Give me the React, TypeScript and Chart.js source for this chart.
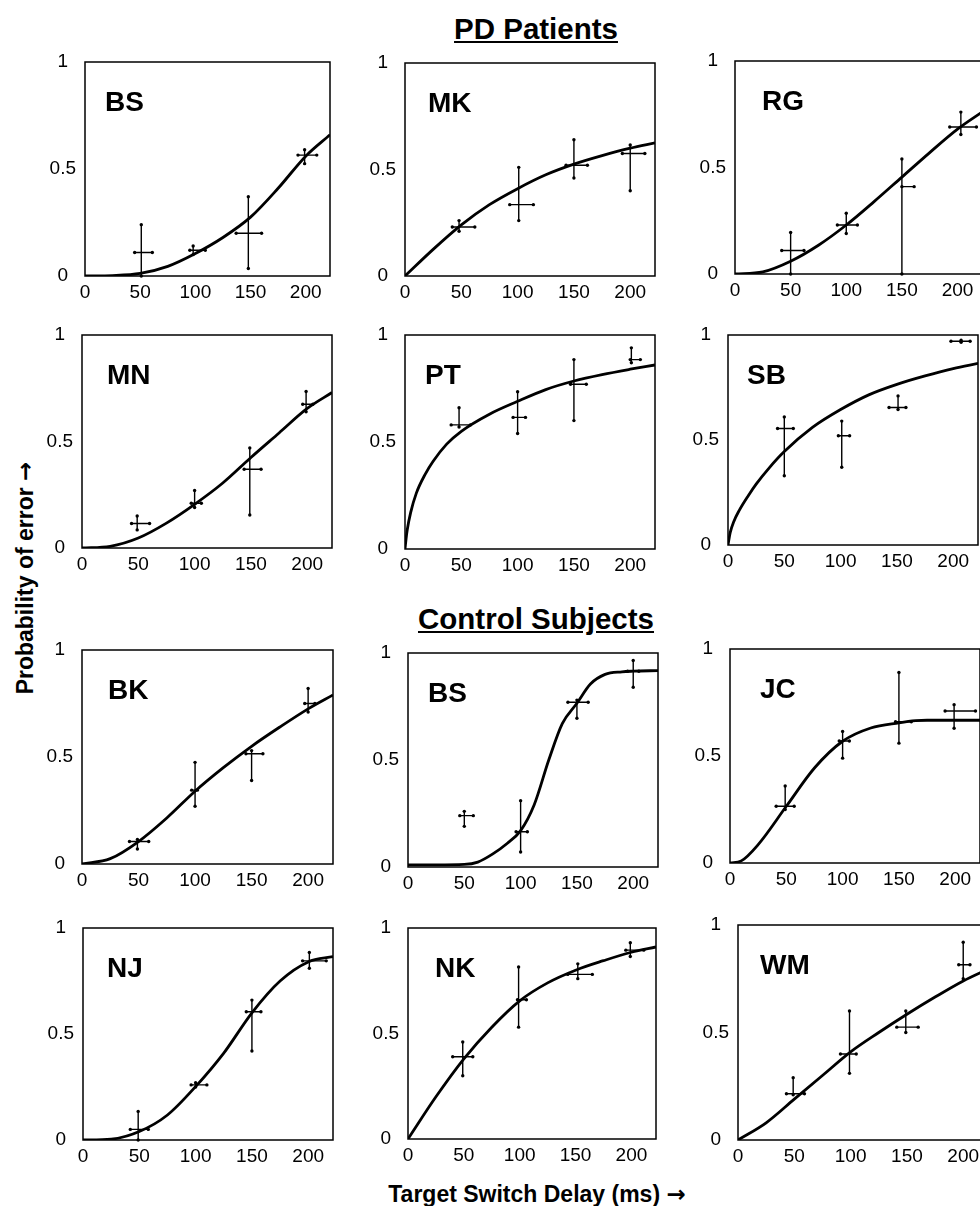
import React, { useEffect, useRef } from "react";
import { Chart, registerables } from "chart.js";

Chart.register(...registerables);

const FONT = '"Liberation Sans", Arial, Helvetica, sans-serif';
const ARROW_FONT = '"DejaVu Sans", sans-serif';

// ---------- shared axis data ----------
const X_TICKS = [0, 50, 100, 150, 200];
const Y_TICKS = [0, 0.5, 1];
const X_MAX = 222;
const CURVE_X = [0, 25, 50, 75, 100, 125, 150, 175, 200, 222];

// ---------- section titles ----------
const TITLE_PD = "PD Patients";
const TITLE_CTRL = "Control Subjects";
const Y_LABEL = "Probability of error";
const X_LABEL = "Target Switch Delay (ms)";
const ARROW = "\u2192";

// points: [x, y, xLow, xHigh, yLow, yHigh]
// ---------- PD patients ----------
const BS_PD_CURVE_Y = [0, 0.002, 0.012, 0.045, 0.105, 0.18, 0.275, 0.41, 0.56, 0.66];
const BS_PD_POINTS = [[51, 0.11, 45, 61, 0, 0.24], [98, 0.12, 95, 109, 0.1, 0.14], [148, 0.2, 137, 160, 0.035, 0.37], [199, 0.565, 193, 210, 0.525, 0.59]];

const MK_CURVE_Y = [0, 0.125, 0.24, 0.335, 0.41, 0.475, 0.525, 0.565, 0.6, 0.625];
const MK_POINTS = [[48, 0.23, 42, 62, 0.21, 0.26], [101, 0.335, 93, 114, 0.26, 0.51], [150, 0.52, 143, 162, 0.46, 0.64], [200, 0.575, 193, 213, 0.4, 0.615]];

const RG_CURVE_Y = [0, 0.01, 0.06, 0.135, 0.23, 0.34, 0.455, 0.57, 0.68, 0.76];
const RG_POINTS = [[50, 0.11, 42, 62, 0, 0.195], [100, 0.23, 92, 110, 0.19, 0.285], [150, 0.41, 150, 161, 0, 0.54], [203, 0.69, 193, 217, 0.655, 0.76]];

const MN_CURVE_Y = [0, 0.008, 0.047, 0.117, 0.205, 0.305, 0.425, 0.54, 0.655, 0.73];
const MN_POINTS = [[49, 0.115, 44, 60, 0.085, 0.15], [100, 0.21, 97, 106, 0.19, 0.27], [149, 0.37, 144, 159, 0.155, 0.47], [199, 0.675, 196, 205, 0.64, 0.735]];

const PT_CURVE_X = [0, 1, 2, 5, 10, 18, 25, 37, 50, 75, 100, 125, 150, 175, 200, 222];
const PT_CURVE_Y = [0, 0.05, 0.09, 0.17, 0.26, 0.35, 0.41, 0.49, 0.55, 0.63, 0.69, 0.745, 0.785, 0.815, 0.84, 0.86];
const PT_POINTS = [[48, 0.58, 41, 58, 0.57, 0.66], [100, 0.615, 96, 107, 0.54, 0.735], [150, 0.77, 147, 161, 0.6, 0.885], [201, 0.885, 200, 209, 0.87, 0.94]];

const SB_CURVE_X = [0, 2, 5, 10, 18, 25, 37, 50, 75, 100, 125, 150, 175, 200, 222];
const SB_CURVE_Y = [0, 0.06, 0.11, 0.165, 0.235, 0.29, 0.37, 0.445, 0.56, 0.645, 0.715, 0.765, 0.805, 0.84, 0.865];
const SB_POINTS = [[50, 0.555, 44, 58, 0.33, 0.61], [101, 0.52, 98, 108, 0.37, 0.59], [151, 0.655, 143, 158, 0.645, 0.71], [207, 0.97, 198, 215, 0.965, 0.975]];

// ---------- control subjects ----------
const BK_CURVE_Y = [0, 0.025, 0.105, 0.215, 0.34, 0.45, 0.55, 0.64, 0.725, 0.79];
const BK_POINTS = [[49, 0.105, 42, 59, 0.07, 0.115], [100, 0.345, 97, 102, 0.27, 0.475], [150, 0.515, 145, 160, 0.39, 0.53], [200, 0.75, 197, 206, 0.71, 0.82]];

const BS_C_CURVE_X = [0, 25, 50, 62, 75, 88, 100, 112, 125, 137, 150, 162, 175, 190, 200, 222];
const BS_C_CURVE_Y = [0.01, 0.01, 0.012, 0.023, 0.06, 0.11, 0.17, 0.29, 0.5, 0.67, 0.765, 0.855, 0.9, 0.912, 0.915, 0.918];
const BS_C_POINTS = [[50, 0.24, 46, 58, 0.19, 0.26], [100, 0.165, 96, 106, 0.07, 0.31], [150, 0.77, 142, 160, 0.695, 0.78], [200, 0.915, 195, 205, 0.84, 0.965]];

const JC_CURVE_X = [0, 10, 25, 50, 75, 100, 125, 150, 165, 175, 200, 222];
const JC_CURVE_Y = [0, 0.01, 0.086, 0.265, 0.444, 0.569, 0.631, 0.655, 0.665, 0.667, 0.667, 0.667];
const JC_POINTS = [[49, 0.265, 41, 57, 0.25, 0.36], [100, 0.57, 97, 106, 0.49, 0.615], [150, 0.66, 147, 161, 0.56, 0.89], [199, 0.71, 191, 218, 0.63, 0.74]];

const NJ_CURVE_Y = [0, 0.004, 0.04, 0.118, 0.252, 0.41, 0.6, 0.75, 0.84, 0.865];
const NJ_POINTS = [[49, 0.05, 42, 58, 0, 0.135], [100, 0.26, 96, 110, 0.25, 0.27], [150, 0.605, 145, 158, 0.42, 0.66], [201, 0.845, 195, 216, 0.81, 0.885]];

const NK_CURVE_Y = [0, 0.2, 0.38, 0.53, 0.655, 0.74, 0.8, 0.845, 0.885, 0.91];
const NK_POINTS = [[49, 0.39, 40, 58, 0.3, 0.46], [99, 0.66, 98, 106, 0.53, 0.815], [152, 0.78, 143, 165, 0.76, 0.83], [199, 0.895, 195, 211, 0.865, 0.93]];

const WM_CURVE_Y = [0, 0.08, 0.19, 0.3, 0.41, 0.5, 0.585, 0.665, 0.74, 0.795];
const WM_POINTS = [[49, 0.215, 43, 59, 0.21, 0.29], [99, 0.4, 91, 105, 0.31, 0.6], [149, 0.525, 141, 160, 0.5, 0.6], [200, 0.815, 196, 206, 0.75, 0.92]];

// ---------- panel table (data) ----------
const PANELS = [
  { name: "BS", cx: CURVE_X, cy: BS_PD_CURVE_Y, pts: BS_PD_POINTS },
  { name: "MK", cx: CURVE_X, cy: MK_CURVE_Y, pts: MK_POINTS },
  { name: "RG", cx: CURVE_X, cy: RG_CURVE_Y, pts: RG_POINTS },
  { name: "MN", cx: CURVE_X, cy: MN_CURVE_Y, pts: MN_POINTS },
  { name: "PT", cx: PT_CURVE_X, cy: PT_CURVE_Y, pts: PT_POINTS },
  { name: "SB", cx: SB_CURVE_X, cy: SB_CURVE_Y, pts: SB_POINTS },
  { name: "BK", cx: CURVE_X, cy: BK_CURVE_Y, pts: BK_POINTS },
  { name: "BS", cx: BS_C_CURVE_X, cy: BS_C_CURVE_Y, pts: BS_C_POINTS },
  { name: "JC", cx: JC_CURVE_X, cy: JC_CURVE_Y, pts: JC_POINTS },
  { name: "NJ", cx: CURVE_X, cy: NJ_CURVE_Y, pts: NJ_POINTS },
  { name: "NK", cx: CURVE_X, cy: NK_CURVE_Y, pts: NK_POINTS },
  { name: "WM", cx: CURVE_X, cy: WM_CURVE_Y, pts: WM_POINTS },
];

// ---------- layout (positions only) ----------
// [boxLeft, boxTop, boxWidth, boxHeight, labelDx]
const LAYOUT = [
  [85, 62, 245, 214, 20],
  [405, 63, 250, 213, 23],
  [735, 61, 247, 213, 27],
  [82, 335, 250, 213, 25],
  [405, 335, 250, 214, 20],
  [728, 335, 250, 210, 19],
  [82, 650, 251, 214, 26],
  [408, 653, 250, 214, 20],
  [730, 649, 250, 214, 30],
  [83, 928, 250, 212, 24],
  [408, 928, 248, 211, 27],
  [738, 925, 250, 215, 22],
];

const PAD_L = 50;
const PAD_T = 12;
const PAD_R = 10;
const PAD_B = 32;

const errorBarPlugin = {
  id: "errorBars",
  afterDatasetsDraw(chart: any, _args: any, opts: any) {
    const { ctx } = chart;
    const xs = chart.scales.x;
    const ys = chart.scales.y;
    const pts: number[][] = opts.points || [];
    ctx.save();
    ctx.strokeStyle = "#000";
    ctx.fillStyle = "#000";
    ctx.lineWidth = 1.4;
    for (const p of pts) {
      const [px, py, xlo, xhi, ylo, yhi] = p;
      const cx = xs.getPixelForValue(px);
      const cy = ys.getPixelForValue(py);
      const x1 = xs.getPixelForValue(xlo);
      const x2 = xs.getPixelForValue(xhi);
      const y1 = ys.getPixelForValue(ylo);
      const y2 = ys.getPixelForValue(yhi);
      ctx.beginPath();
      ctx.moveTo(x1, cy);
      ctx.lineTo(x2, cy);
      ctx.moveTo(cx, y1);
      ctx.lineTo(cx, y2);
      ctx.stroke();
      const ends = [[x1, cy], [x2, cy], [cx, y1], [cx, y2]];
      for (const [ex, ey] of ends) {
        ctx.beginPath();
        ctx.arc(ex, ey, 1.7, 0, Math.PI * 2);
        ctx.fill();
      }
    }
    ctx.restore();
  },
};

const panelPlugin = {
  id: "panelBox",
  afterDraw(chart: any, _args: any, opts: any) {
    const { ctx, chartArea } = chart;
    ctx.save();
    ctx.strokeStyle = "#000";
    ctx.lineWidth = 1.5;
    ctx.strokeRect(chartArea.left, chartArea.top, chartArea.right - chartArea.left, chartArea.bottom - chartArea.top);
    ctx.fillStyle = "#000";
    ctx.font = `bold 28px ${FONT}`;
    ctx.textAlign = "left";
    ctx.textBaseline = "alphabetic";
    ctx.fillText(opts.label, chartArea.left + opts.dx, chartArea.top + 49);
    ctx.restore();
  },
};

function zeroPad(s: any) {
  s.paddingTop = 0;
  s.paddingBottom = 0;
  s.paddingLeft = 0;
  s.paddingRight = 0;
}

function Panel({ idx }: { idx: number }) {
  const ref = useRef<HTMLCanvasElement>(null);
  const panel = PANELS[idx];
  const [bl, bt, bw, bh, dx] = LAYOUT[idx];
  const w = bw + PAD_L + PAD_R;
  const h = bh + PAD_T + PAD_B;
  useEffect(() => {
    if (!ref.current) return;
    const chart = new Chart(ref.current, {
      type: "line",
      data: {
        datasets: [
          {
            data: panel.cx.map((x: number, i: number) => ({ x, y: panel.cy[i] })),
            borderColor: "#000",
            borderWidth: 2.8,
            pointRadius: 0,
            fill: false,
            cubicInterpolationMode: "monotone",
          } as any,
        ],
      },
      options: {
        animation: false,
        responsive: false,
        devicePixelRatio: 1,
        layout: { padding: { top: PAD_T, right: PAD_R, left: 0, bottom: 0 } },
        plugins: {
          legend: { display: false },
          tooltip: { enabled: false },
          errorBars: { points: panel.pts },
          panelBox: { label: panel.name, dx },
        } as any,
        scales: {
          x: {
            type: "linear",
            min: 0,
            max: X_MAX,
            grid: { display: false, drawTicks: false },
            border: { display: false },
            afterBuildTicks: (s: any) => {
              s.ticks = X_TICKS.map((v) => ({ value: v }));
            },
            afterFit: (s: any) => {
              s.height = PAD_B;
              zeroPad(s);
            },
            ticks: {
              color: "#000",
              font: { family: FONT, size: 19 },
              padding: 5,
              maxRotation: 0,
              autoSkip: false,
              callback: (v: any) => String(v),
            },
          },
          y: {
            type: "linear",
            min: 0,
            max: 1,
            grid: { display: false, drawTicks: false },
            border: { display: false },
            afterBuildTicks: (s: any) => {
              s.ticks = Y_TICKS.map((v) => ({ value: v }));
            },
            afterFit: (s: any) => {
              s.width = PAD_L;
              zeroPad(s);
            },
            ticks: {
              color: "#000",
              font: { family: FONT, size: 19 },
              padding: 9,
              crossAlign: "center",
              autoSkip: false,
              callback: (v: any) => String(v),
            },
          },
        },
      } as any,
      plugins: [errorBarPlugin, panelPlugin],
    });
    return () => chart.destroy();
  }, [idx]);
  return (
    <canvas
      ref={ref}
      width={w}
      height={h}
      style={{ position: "absolute", left: bl - PAD_L, top: bt - PAD_T, width: w, height: h }}
    />
  );
}

export default function App() {
  const bold: React.CSSProperties = {
    position: "absolute",
    fontFamily: FONT,
    fontWeight: "bold",
    color: "#000",
    whiteSpace: "nowrap",
    lineHeight: 1,
  };
  const arrow: React.CSSProperties = { fontFamily: ARROW_FONT, fontWeight: "bold", color: "#000" };
  return (
    <div style={{ position: "absolute", left: 0, top: 0, width: 980, height: 1206, overflow: "hidden", background: "#fff" }}>
      <div style={{ ...bold, left: 536, top: 14, fontSize: 29.5, textDecoration: "underline", transform: "translateX(-50%)" }}>{TITLE_PD}</div>
      <div style={{ ...bold, left: 536, top: 604, fontSize: 29.5, textDecoration: "underline", transform: "translateX(-50%)" }}>{TITLE_CTRL}</div>
      <div style={{ ...bold, left: 537, top: 1183, fontSize: 23, transform: "translateX(-50%)" }}>
        {X_LABEL} <span style={arrow}>{ARROW}</span>
      </div>
      <div style={{ ...bold, left: 25, top: 578, fontSize: 23, transform: "translate(-50%, -50%) rotate(-90deg)" }}>
        {Y_LABEL} <span style={arrow}>{ARROW}</span>
      </div>
      {PANELS.map((_, i) => (
        <Panel key={i} idx={i} />
      ))}
    </div>
  );
}
